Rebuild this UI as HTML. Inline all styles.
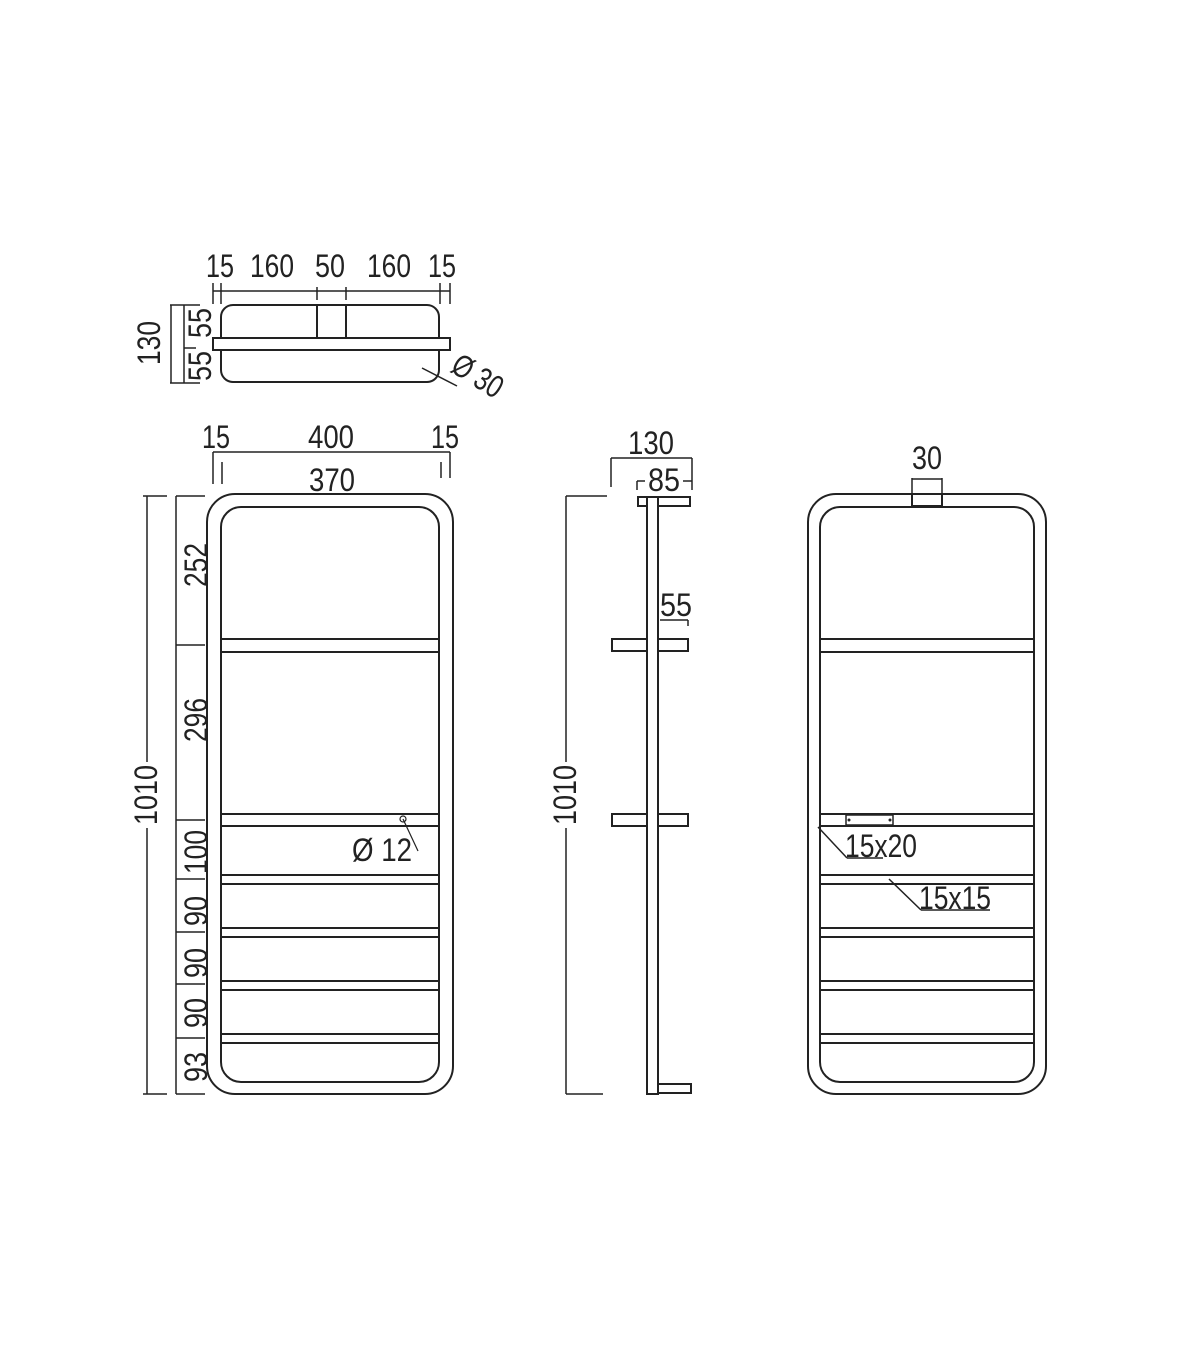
<!DOCTYPE html>
<html><head><meta charset="utf-8"><style>
html,body{margin:0;padding:0;background:#fff}
svg{display:block}
text{font-family:"Liberation Sans",sans-serif;font-size:32px;fill:#222}
</style></head><body>
<svg width="1200" height="1372" viewBox="0 0 1200 1372" xmlns="http://www.w3.org/2000/svg">
<g fill="none" stroke="#222" stroke-width="2">
<!-- plan view -->
<rect x="221" y="305" width="218" height="77" rx="12"/>
<rect x="213" y="338" width="237" height="12" fill="#fff"/>
<line x1="317" y1="305" x2="317" y2="338"/><line x1="346" y1="305" x2="346" y2="338"/>
<line x1="213" y1="291" x2="450" y2="291" stroke-width="1.5"/>
<g stroke-width="1.5">
<line x1="213" y1="283" x2="213" y2="304"/><line x1="221" y1="283" x2="221" y2="304"/>
<line x1="317" y1="287" x2="317" y2="300"/><line x1="346" y1="287" x2="346" y2="300"/>
<line x1="440" y1="283" x2="440" y2="304"/><line x1="450" y1="283" x2="450" y2="304"/>
<line x1="171" y1="305" x2="171" y2="383"/><line x1="170" y1="305" x2="200" y2="305"/><line x1="170" y1="383" x2="200" y2="383"/>
<line x1="184" y1="305" x2="184" y2="383"/><line x1="184" y1="348" x2="196" y2="348"/>
<line x1="422" y1="368" x2="457" y2="386"/>
<!-- front top dims -->
<line x1="213" y1="452" x2="450" y2="452"/>
<line x1="213" y1="452" x2="213" y2="484"/><line x1="222" y1="462" x2="222" y2="484"/>
<line x1="441" y1="462" x2="441" y2="478"/><line x1="450" y1="452" x2="450" y2="478"/>
<!-- left chain dims -->
<line x1="147" y1="496" x2="147" y2="762"/><line x1="147" y1="828" x2="147" y2="1094"/>
<line x1="143" y1="496" x2="167" y2="496"/><line x1="143" y1="1094" x2="167" y2="1094"/>
<line x1="176" y1="496" x2="176" y2="1094"/>
<line x1="176" y1="496" x2="205" y2="496"/><line x1="176" y1="645" x2="205" y2="645"/>
<line x1="176" y1="820" x2="205" y2="820"/><line x1="176" y1="879" x2="205" y2="879"/>
<line x1="176" y1="932" x2="205" y2="932"/><line x1="176" y1="984" x2="205" y2="984"/>
<line x1="176" y1="1038" x2="205" y2="1038"/><line x1="176" y1="1094" x2="205" y2="1094"/>
</g>
<!-- front view -->
<rect x="207" y="494" width="246" height="600" rx="28"/>
<rect x="221" y="507" width="218" height="575" rx="20"/>
<g>
<line x1="221" y1="639" x2="439" y2="639"/><line x1="221" y1="652" x2="439" y2="652"/>
<line x1="221" y1="814" x2="439" y2="814"/><line x1="221" y1="826" x2="439" y2="826"/>
<line x1="221" y1="875" x2="439" y2="875"/><line x1="221" y1="884" x2="439" y2="884"/>
<line x1="221" y1="928" x2="439" y2="928"/><line x1="221" y1="937" x2="439" y2="937"/>
<line x1="221" y1="981" x2="439" y2="981"/><line x1="221" y1="990" x2="439" y2="990"/>
<line x1="221" y1="1034" x2="439" y2="1034"/><line x1="221" y1="1043" x2="439" y2="1043"/>
</g>
<circle cx="403" cy="819" r="3" stroke-width="1.2"/>
<line x1="403" y1="819" x2="418" y2="851" stroke-width="1.2"/>
<!-- side view -->
<g stroke-width="1.5">
<line x1="566" y1="496" x2="566" y2="762"/><line x1="566" y1="828" x2="566" y2="1094"/>
<line x1="566" y1="496" x2="607" y2="496"/><line x1="566" y1="1094" x2="603" y2="1094"/>
<line x1="611" y1="458" x2="692" y2="458"/><line x1="611" y1="458" x2="611" y2="487"/><line x1="692" y1="458" x2="692" y2="490"/>
<line x1="637" y1="481" x2="645" y2="481"/><line x1="683" y1="481" x2="692" y2="481"/><line x1="637" y1="481" x2="637" y2="490"/>
<line x1="660" y1="620" x2="688" y2="620"/><line x1="688" y1="620" x2="688" y2="626"/>
</g>
<rect x="638" y="497" width="52" height="9"/>
<rect x="612" y="639" width="76" height="12"/>
<rect x="612" y="814" width="76" height="12"/>
<rect x="658" y="1084" width="33" height="9"/>
<rect x="647" y="497" width="11" height="597" fill="#fff"/>
<!-- back view -->
<rect x="808" y="494" width="238" height="600" rx="28"/>
<rect x="820" y="507" width="214" height="575" rx="20"/>
<g>
<line x1="820" y1="639" x2="1034" y2="639"/><line x1="820" y1="652" x2="1034" y2="652"/>
<line x1="820" y1="814" x2="1034" y2="814"/><line x1="820" y1="826" x2="1034" y2="826"/>
<line x1="820" y1="875" x2="1034" y2="875"/><line x1="820" y1="884" x2="1034" y2="884"/>
<line x1="820" y1="928" x2="1034" y2="928"/><line x1="820" y1="937" x2="1034" y2="937"/>
<line x1="820" y1="981" x2="1034" y2="981"/><line x1="820" y1="990" x2="1034" y2="990"/>
<line x1="820" y1="1034" x2="1034" y2="1034"/><line x1="820" y1="1043" x2="1034" y2="1043"/>
</g>
<rect x="912" y="494" width="30" height="12" fill="#fff"/>
<g stroke-width="1.5">
<line x1="912" y1="478" x2="912" y2="494"/><line x1="942" y1="478" x2="942" y2="494"/><line x1="912" y1="479" x2="942" y2="479"/>
<rect x="846" y="815" width="47" height="10"/>
<line x1="818" y1="827" x2="847" y2="858"/><line x1="847" y1="858" x2="883" y2="858"/>
<line x1="889" y1="879" x2="921" y2="910"/><line x1="921" y1="910" x2="990" y2="910"/>
</g>
</g>
<circle cx="849" cy="820" r="1.5" fill="#222"/><circle cx="890" cy="820" r="1.5" fill="#222"/>
<!-- text -->
<g text-anchor="middle" lengthAdjust="spacingAndGlyphs">
<text x="220" y="277" textLength="28" lengthAdjust="spacingAndGlyphs">15</text>
<text x="272" y="277" textLength="44" lengthAdjust="spacingAndGlyphs">160</text>
<text x="330" y="277" textLength="30" lengthAdjust="spacingAndGlyphs">50</text>
<text x="389" y="277" textLength="44" lengthAdjust="spacingAndGlyphs">160</text>
<text x="442" y="277" textLength="28" lengthAdjust="spacingAndGlyphs">15</text>
<text transform="translate(160,343) rotate(-90)" textLength="44" lengthAdjust="spacingAndGlyphs">130</text>
<text transform="translate(211,323) rotate(-90)" textLength="30" lengthAdjust="spacingAndGlyphs">55</text>
<text transform="translate(211,366) rotate(-90)" textLength="30" lengthAdjust="spacingAndGlyphs">55</text>
<text transform="translate(472,385) rotate(32)" textLength="54" lengthAdjust="spacingAndGlyphs">Ø 30</text>
<text x="216" y="448" textLength="28" lengthAdjust="spacingAndGlyphs">15</text>
<text x="331" y="448" textLength="46" lengthAdjust="spacingAndGlyphs">400</text>
<text x="445" y="448" textLength="28" lengthAdjust="spacingAndGlyphs">15</text>
<text x="332" y="491" textLength="46" lengthAdjust="spacingAndGlyphs">370</text>
<text transform="translate(157,795) rotate(-90)" textLength="60" lengthAdjust="spacingAndGlyphs">1010</text>
<text transform="translate(207,565) rotate(-90)" textLength="44" lengthAdjust="spacingAndGlyphs">252</text>
<text transform="translate(207,720) rotate(-90)" textLength="44" lengthAdjust="spacingAndGlyphs">296</text>
<text transform="translate(207,852) rotate(-90)" textLength="44" lengthAdjust="spacingAndGlyphs">100</text>
<text transform="translate(207,911) rotate(-90)" textLength="30" lengthAdjust="spacingAndGlyphs">90</text>
<text transform="translate(207,963) rotate(-90)" textLength="30" lengthAdjust="spacingAndGlyphs">90</text>
<text transform="translate(207,1013) rotate(-90)" textLength="30" lengthAdjust="spacingAndGlyphs">90</text>
<text transform="translate(207,1067) rotate(-90)" textLength="30" lengthAdjust="spacingAndGlyphs">93</text>
<text x="382" y="861" textLength="60" lengthAdjust="spacingAndGlyphs">Ø 12</text>
<text x="651" y="454" textLength="46" lengthAdjust="spacingAndGlyphs">130</text>
<text x="664" y="491" textLength="32" lengthAdjust="spacingAndGlyphs">85</text>
<text x="676" y="616" textLength="32" lengthAdjust="spacingAndGlyphs">55</text>
<text transform="translate(576,795) rotate(-90)" textLength="60" lengthAdjust="spacingAndGlyphs">1010</text>
<text x="927" y="469" textLength="30" lengthAdjust="spacingAndGlyphs">30</text>
<text x="881" y="857" textLength="72" lengthAdjust="spacingAndGlyphs">15x20</text>
<text x="955" y="909" textLength="72" lengthAdjust="spacingAndGlyphs">15x15</text>
</g>
</svg>
</body></html>
